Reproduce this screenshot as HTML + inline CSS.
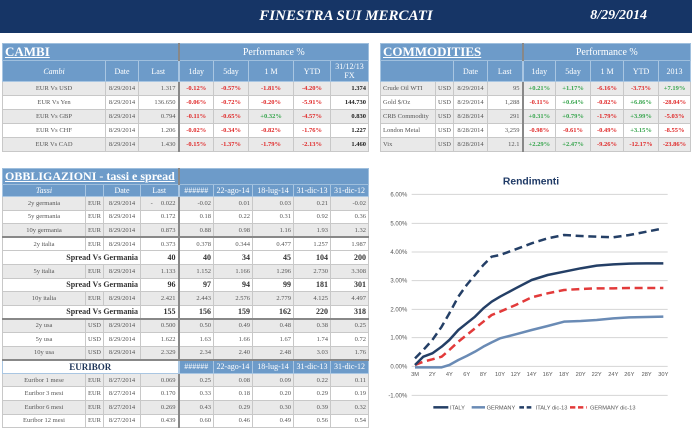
<!DOCTYPE html>
<html><head><meta charset="utf-8"><style>
*{margin:0;padding:0;box-sizing:border-box}
body{width:692px;height:429px;background:#fff;position:relative;overflow:hidden;font-family:"Liberation Serif",serif}
.hdr{position:absolute;left:0;top:0;width:692px;height:33px;background:#163566}
.hdr .t{position:absolute;left:0;width:692px;top:8px;text-align:center;color:#fff;font-style:italic;font-weight:bold;font-size:15px}
.hdr .d{position:absolute;right:45px;top:8px;color:#fff;font-style:italic;font-weight:bold;font-size:14px}
table{position:absolute;border-collapse:collapse;table-layout:fixed;font-size:6.5px;color:#555}
td{border:1px solid #c8c8c8;overflow:hidden;white-space:nowrap;padding:0 2px}
.ti{background:#6d9bc9;color:#fff;font-size:13px;font-weight:bold;text-decoration:underline;text-align:left;border-color:#9fbfdd}
.ph{background:#6d9bc9;color:#fff;font-size:10px;text-align:center;border-color:#9fbfdd}
.h td{background:#6d9bc9;color:#fff;font-size:8px;text-align:center;border-color:#a9c6e2}
.g td{background:#e9e9e9}
.w td{background:#fff}
.c{text-align:center}.r{text-align:right}.l{text-align:left}
.rd{color:#e02a2a;text-align:center;font-weight:bold}.gr{color:#3aa650;text-align:center;font-weight:bold}
.bk{color:#222;font-weight:bold;text-align:right}
.sep{border-left:2px solid #888}
.sp td{background:#fff;font-weight:bold;color:#333;font-size:8px;text-align:right}
.tb td{border-bottom:2px solid #888}
</style></head><body>
<div class="hdr"><div class="t">FINESTRA SUI MERCATI</div><div class="d">8/29/2014</div></div>

<table style="left:2px;top:43px;width:366px">
<colgroup><col style="width:103px"><col style="width:33px"><col style="width:40px"><col style="width:35px"><col style="width:35px"><col style="width:45px"><col style="width:37px"><col style="width:38px"></colgroup>
<tr style="height:17px"><td colspan="3" class="ti">CAMBI</td><td colspan="5" class="ph sep">Performance %</td></tr>
<tr class="h" style="height:21px"><td><i>Cambi</i></td><td>Date</td><td>Last</td><td class="sep">1day</td><td>5day</td><td>1 M</td><td>YTD</td><td style="line-height:9px">31/12/13<br>FX</td></tr>
<tr class="g" style="height:14px"><td class="c">EUR Vs USD</td><td class="c">8/29/2014</td><td class="r">1.317</td><td class="rd sep">-0.12%</td><td class="rd">-0.57%</td><td class="rd">-1.81%</td><td class="rd">-4.20%</td><td class="bk">1.374</td></tr>
<tr class="w" style="height:14px"><td class="c">EUR Vs Yen</td><td class="c">8/29/2014</td><td class="r">136.650</td><td class="rd sep">-0.06%</td><td class="rd">-0.72%</td><td class="rd">-0.20%</td><td class="rd">-5.91%</td><td class="bk">144.730</td></tr>
<tr class="g" style="height:14px"><td class="c">EUR Vs GBP</td><td class="c">8/29/2014</td><td class="r">0.794</td><td class="rd sep">-0.11%</td><td class="rd">-0.65%</td><td class="gr">+0.32%</td><td class="rd">-4.57%</td><td class="bk">0.830</td></tr>
<tr class="w" style="height:14px"><td class="c">EUR Vs CHF</td><td class="c">8/29/2014</td><td class="r">1.206</td><td class="rd sep">-0.02%</td><td class="rd">-0.34%</td><td class="rd">-0.82%</td><td class="rd">-1.76%</td><td class="bk">1.227</td></tr>
<tr class="g" style="height:14px"><td class="c">EUR Vs CAD</td><td class="c">8/29/2014</td><td class="r">1.430</td><td class="rd sep">-0.15%</td><td class="rd">-1.37%</td><td class="rd">-1.79%</td><td class="rd">-2.13%</td><td class="bk">1.460</td></tr>
</table>

<table style="left:380px;top:43px;width:310px">
<colgroup><col style="width:55px"><col style="width:18px"><col style="width:34px"><col style="width:35px"><col style="width:33px"><col style="width:35px"><col style="width:33px"><col style="width:35px"><col style="width:32px"></colgroup>
<tr style="height:17px"><td colspan="4" class="ti">COMMODITIES</td><td colspan="5" class="ph sep">Performance %</td></tr>
<tr class="h" style="height:21px"><td colspan="2"></td><td>Date</td><td>Last</td><td class="sep">1day</td><td>5day</td><td>1 M</td><td>YTD</td><td>2013</td></tr>
<tr class="g" style="height:14px"><td class="l">Crude Oil WTI</td><td>USD</td><td class="c">8/29/2014</td><td class="r">95</td><td class="gr sep">+0.21%</td><td class="gr">+1.17%</td><td class="rd">-6.16%</td><td class="rd">-3.73%</td><td class="gr">+7.19%</td></tr>
<tr class="w" style="height:14px"><td class="l">Gold $/Oz</td><td>USD</td><td class="c">8/29/2014</td><td class="r">1,288</td><td class="rd sep">-0.11%</td><td class="gr">+0.64%</td><td class="rd">-0.82%</td><td class="gr">+6.86%</td><td class="rd">-28.04%</td></tr>
<tr class="g" style="height:14px"><td class="l">CRB Commodity</td><td>USD</td><td class="c">8/28/2014</td><td class="r">291</td><td class="gr sep">+0.31%</td><td class="gr">+0.79%</td><td class="rd">-1.79%</td><td class="gr">+3.99%</td><td class="rd">-5.03%</td></tr>
<tr class="w" style="height:14px"><td class="l">London Metal</td><td>USD</td><td class="c">8/28/2014</td><td class="r">3,259</td><td class="rd sep">-0.98%</td><td class="rd">-0.61%</td><td class="rd">-0.49%</td><td class="gr">+3.15%</td><td class="rd">-8.55%</td></tr>
<tr class="g" style="height:14px"><td class="l">Vix</td><td>USD</td><td class="c">8/28/2014</td><td class="r">12.1</td><td class="gr sep">+2.29%</td><td class="gr">+2.47%</td><td class="rd">-9.26%</td><td class="rd">-12.17%</td><td class="rd">-23.86%</td></tr>
</table>

<table style="left:2px;top:168px;width:366px">
<colgroup><col style="width:83px"><col style="width:18px"><col style="width:37px"><col style="width:38px"><col style="width:35px"><col style="width:39px"><col style="width:41px"><col style="width:37px"><col style="width:38px"></colgroup>
<tr style="height:13px"><td colspan="4" class="ti" style="font-size:12px">OBBLIGAZIONI - tassi e spread</td><td colspan="5" class="ph sep"></td></tr>
<tr class="h" style="height:12px"><td><i>Tassi</i></td><td></td><td>Date</td><td>Last</td><td class="sep">######</td><td>22-ago-14</td><td>18-lug-14</td><td>31-dic-13</td><td>31-dic-12</td></tr>
<tr class="g" style="height:13.6px"><td class="c">2y germania</td><td>EUR</td><td class="c">8/29/2014</td><td class="r">-&nbsp;&nbsp;&nbsp;&nbsp;&nbsp;0.022</td><td class="r sep">-0.02</td><td class="r">0.01</td><td class="r">0.03</td><td class="r">0.21</td><td class="r">-0.02</td></tr>
<tr class="w" style="height:13.6px"><td class="c">5y germania</td><td>EUR</td><td class="c">8/29/2014</td><td class="r">0.172</td><td class="r sep">0.18</td><td class="r">0.22</td><td class="r">0.31</td><td class="r">0.92</td><td class="r">0.36</td></tr>
<tr class="g tb" style="height:13.6px"><td class="c">10y germania</td><td>EUR</td><td class="c">8/29/2014</td><td class="r">0.873</td><td class="r sep">0.88</td><td class="r">0.98</td><td class="r">1.16</td><td class="r">1.93</td><td class="r">1.32</td></tr>
<tr class="w" style="height:13.6px"><td class="c">2y italia</td><td>EUR</td><td class="c">8/29/2014</td><td class="r">0.373</td><td class="r sep">0.378</td><td class="r">0.344</td><td class="r">0.477</td><td class="r">1.257</td><td class="r">1.987</td></tr>
<tr class="sp" style="height:13.6px"><td colspan="3">Spread Vs Germania</td><td>40</td><td class="sep">40</td><td>34</td><td>45</td><td>104</td><td>200</td></tr>
<tr class="g" style="height:13.6px"><td class="c">5y italia</td><td>EUR</td><td class="c">8/29/2014</td><td class="r">1.133</td><td class="r sep">1.152</td><td class="r">1.166</td><td class="r">1.296</td><td class="r">2.730</td><td class="r">3.308</td></tr>
<tr class="sp" style="height:13.6px"><td colspan="3">Spread Vs Germania</td><td>96</td><td class="sep">97</td><td>94</td><td>99</td><td>181</td><td>301</td></tr>
<tr class="g" style="height:13.6px"><td class="c">10y italia</td><td>EUR</td><td class="c">8/29/2014</td><td class="r">2.421</td><td class="r sep">2.443</td><td class="r">2.576</td><td class="r">2.779</td><td class="r">4.125</td><td class="r">4.497</td></tr>
<tr class="sp tb" style="height:13.6px"><td colspan="3">Spread Vs Germania</td><td>155</td><td class="sep">156</td><td>159</td><td>162</td><td>220</td><td>318</td></tr>
<tr class="g" style="height:13.6px"><td class="c">2y usa</td><td>USD</td><td class="c">8/29/2014</td><td class="r">0.500</td><td class="r sep">0.50</td><td class="r">0.49</td><td class="r">0.48</td><td class="r">0.38</td><td class="r">0.25</td></tr>
<tr class="w" style="height:13.6px"><td class="c">5y usa</td><td>USD</td><td class="c">8/29/2014</td><td class="r">1.622</td><td class="r sep">1.63</td><td class="r">1.66</td><td class="r">1.67</td><td class="r">1.74</td><td class="r">0.72</td></tr>
<tr class="g tb" style="height:13.6px"><td class="c">10y usa</td><td>USD</td><td class="c">8/29/2014</td><td class="r">2.329</td><td class="r sep">2.34</td><td class="r">2.40</td><td class="r">2.48</td><td class="r">3.03</td><td class="r">1.76</td></tr>
<tr class="h" style="height:13.6px"><td colspan="4" style="background:#fff;color:#1e3558;font-weight:bold;font-size:9px">EURIBOR</td><td class="sep">######</td><td>22-ago-14</td><td>18-lug-14</td><td>31-dic-13</td><td>31-dic-12</td></tr>
<tr class="g" style="height:13.6px"><td class="c">Euribor 1 mese</td><td>EUR</td><td class="c">8/27/2014</td><td class="r">0.069</td><td class="r sep">0.25</td><td class="r">0.08</td><td class="r">0.09</td><td class="r">0.22</td><td class="r">0.11</td></tr>
<tr class="w" style="height:13.6px"><td class="c">Euribor 3 mesi</td><td>EUR</td><td class="c">8/27/2014</td><td class="r">0.170</td><td class="r sep">0.33</td><td class="r">0.18</td><td class="r">0.20</td><td class="r">0.29</td><td class="r">0.19</td></tr>
<tr class="g" style="height:13.6px"><td class="c">Euribor 6 mesi</td><td>EUR</td><td class="c">8/27/2014</td><td class="r">0.269</td><td class="r sep">0.43</td><td class="r">0.29</td><td class="r">0.30</td><td class="r">0.39</td><td class="r">0.32</td></tr>
<tr class="w" style="height:13.6px"><td class="c">Euribor 12 mesi</td><td>EUR</td><td class="c">8/27/2014</td><td class="r">0.439</td><td class="r sep">0.60</td><td class="r">0.46</td><td class="r">0.49</td><td class="r">0.56</td><td class="r">0.54</td></tr>
</table>

<svg style="position:absolute;left:370px;top:160px" width="322" height="269" viewBox="0 0 966 807" font-family="Liberation Sans, sans-serif">
<text x="483" y="73" text-anchor="middle" font-size="31" font-weight="bold" fill="#1f3a66">Rendimenti</text>
<g stroke="#d4d4d4" stroke-width="3">
<line x1="125" x2="893" y1="103" y2="103"/><line x1="125" x2="893" y1="190" y2="190"/><line x1="125" x2="893" y1="276" y2="276"/><line x1="125" x2="893" y1="362" y2="362"/><line x1="125" x2="893" y1="448" y2="448"/><line x1="125" x2="893" y1="533" y2="533"/><line x1="125" x2="893" y1="619" y2="619"/><line x1="125" x2="893" y1="706" y2="706"/>
</g>
<g font-size="18" fill="#555" text-anchor="end">
<text x="112" y="109">6.00%</text><text x="112" y="196">5.00%</text><text x="112" y="282">4.00%</text><text x="112" y="368">3.00%</text><text x="112" y="454">2.00%</text><text x="112" y="539">1.00%</text><text x="112" y="625">0.00%</text><text x="112" y="712">-1.00%</text>
</g>
<g font-size="17" fill="#555" text-anchor="middle">
<text x="135" y="648">3M</text><text x="187" y="648">2Y</text><text x="238" y="648">4Y</text><text x="290" y="648">6Y</text><text x="340" y="648">8Y</text><text x="390" y="648">10Y</text><text x="437" y="648">12Y</text><text x="485" y="648">14Y</text><text x="533" y="648">16Y</text><text x="582" y="648">18Y</text><text x="632" y="648">20Y</text><text x="680" y="648">22Y</text><text x="730" y="648">24Y</text><text x="778" y="648">26Y</text><text x="830" y="648">28Y</text><text x="880" y="648">30Y</text>
</g>
<g fill="none" stroke-width="7.5" stroke-linejoin="round">
<polyline stroke="#6a8bb5" points="135,622 187,622 215,622 238,615 265,600 290,588 315,575 340,560 365,547 390,535 437,523 485,510 533,498 582,485 632,483 680,480 730,475 778,472 830,471 880,470"/>
<polyline stroke="#e23a3a" stroke-dasharray="24,14" points="135,615 160,605 187,598 215,590 238,570 265,545 290,525 315,505 340,485 365,465 390,455 437,435 485,412 533,400 582,390 632,387 680,385 730,385 778,384 830,384 880,384"/>
<polyline stroke="#243f66" stroke-dasharray="24,14" points="135,595 160,570 187,540 215,500 238,460 265,410 290,375 315,345 340,315 365,290 390,285 437,268 485,250 533,235 582,225 632,228 680,230 730,232 778,225 830,215 880,205"/>
<polyline stroke="#243f66" points="135,615 160,590 187,580 215,560 238,540 265,510 290,490 315,470 340,445 365,425 390,410 437,385 485,360 533,345 582,335 632,325 680,317 730,313 778,311 830,310 880,310"/>
</g>
<g stroke-width="7.5">
<line x1="190" x2="235" y1="742" y2="742" stroke="#243f66"/>
<line x1="305" x2="345" y1="742" y2="742" stroke="#6a8bb5"/>
<line x1="448" x2="490" y1="742" y2="742" stroke="#243f66" stroke-dasharray="14,8"/>
<line x1="600" x2="650" y1="742" y2="742" stroke="#e23a3a" stroke-dasharray="16,8"/>
</g>
<g font-size="17" fill="#555">
<text x="240" y="748">ITALY</text><text x="350" y="748">GERMANY</text><text x="497" y="748">ITALY dic-13</text><text x="660" y="748">GERMANY dic-13</text>
</g>
</svg>
</body></html>
